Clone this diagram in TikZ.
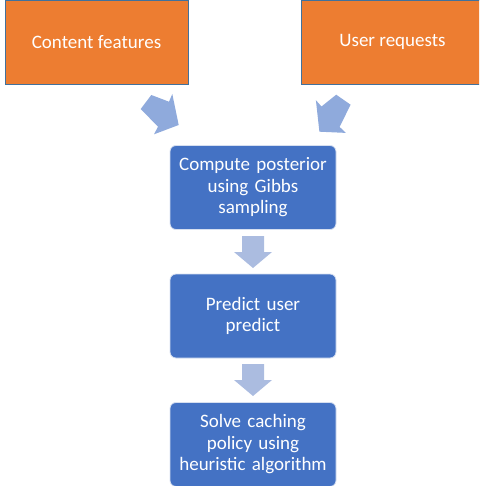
\documentclass[tikz,border=0pt]{standalone}
\usepackage{fontspec}
\setmainfont{Carlito}
\definecolor{orng}{HTML}{ED7D31}
\definecolor{orngedge}{HTML}{41719C}
\definecolor{blu}{HTML}{4472C4}
\definecolor{bluedge}{HTML}{D6DFF0}
\definecolor{diagarr}{HTML}{8FAADC}
\definecolor{downarr}{HTML}{ABBCE0}
\begin{document}
\begin{tikzpicture}[x=1pt,y=-1pt,
  inbox/.style={rectangle, fill=orng, draw=orngedge, line width=0.8pt, text=white,
    minimum width=183pt, minimum height=84pt, inner sep=0pt,
    font=\fontsize{19}{22}\selectfont},
  stepbox/.style={rectangle, rounded corners=6pt, fill=blu, draw=bluedge, line width=0.8pt, text=white,
    minimum width=166pt, minimum height=84pt, inner sep=0pt, align=center, text width=164pt,
    font=\fontsize{19}{21.5}\selectfont},
  darr/.style={fill=diagarr, draw=none},
  varr/.style={fill=downarr, draw=none}]
\useasboundingbox (0,0) rectangle (479,486);
\begin{scope}
\clip (0,0) rectangle (479,486);
\node[inbox] (cf) at (96.5,42) {Content features};
\node[inbox] (ur) at (392.5,42) {User requests};
\node[stepbox] (b1) at (253,187.5) {Compute posterior\\using Gibbs\\sampling};
\node[stepbox] (b2) at (253,316) {Predict user\\predict};
\node[stepbox] (b3) at (253,444.5) {Solve caching\\policy using\\heuristic algorithm};
% diagonal block arrows
\fill[darr] (140.7,109) -- (151.3,95) -- (169,101.7) -- (172.3,94) -- (178.7,125) -- (154,134.3) -- (158,126.7) -- cycle;
\fill[darr] (350.6,104.7) -- (336.2,94.7) -- (321.5,106.5) -- (315.9,100.2) -- (319.4,131.7) -- (345.8,132.9) -- (339.6,126.9) -- cycle;
% down block arrows
\fill[varr] (242,236) -- (264,236) -- (264,252) -- (272,252) -- (253,268) -- (234,252) -- (242,252) -- cycle;
\fill[varr] (242,364) -- (264,364) -- (264,380) -- (272,380) -- (253,396) -- (234,380) -- (242,380) -- cycle;
\end{scope}
\end{tikzpicture}
\end{document}
